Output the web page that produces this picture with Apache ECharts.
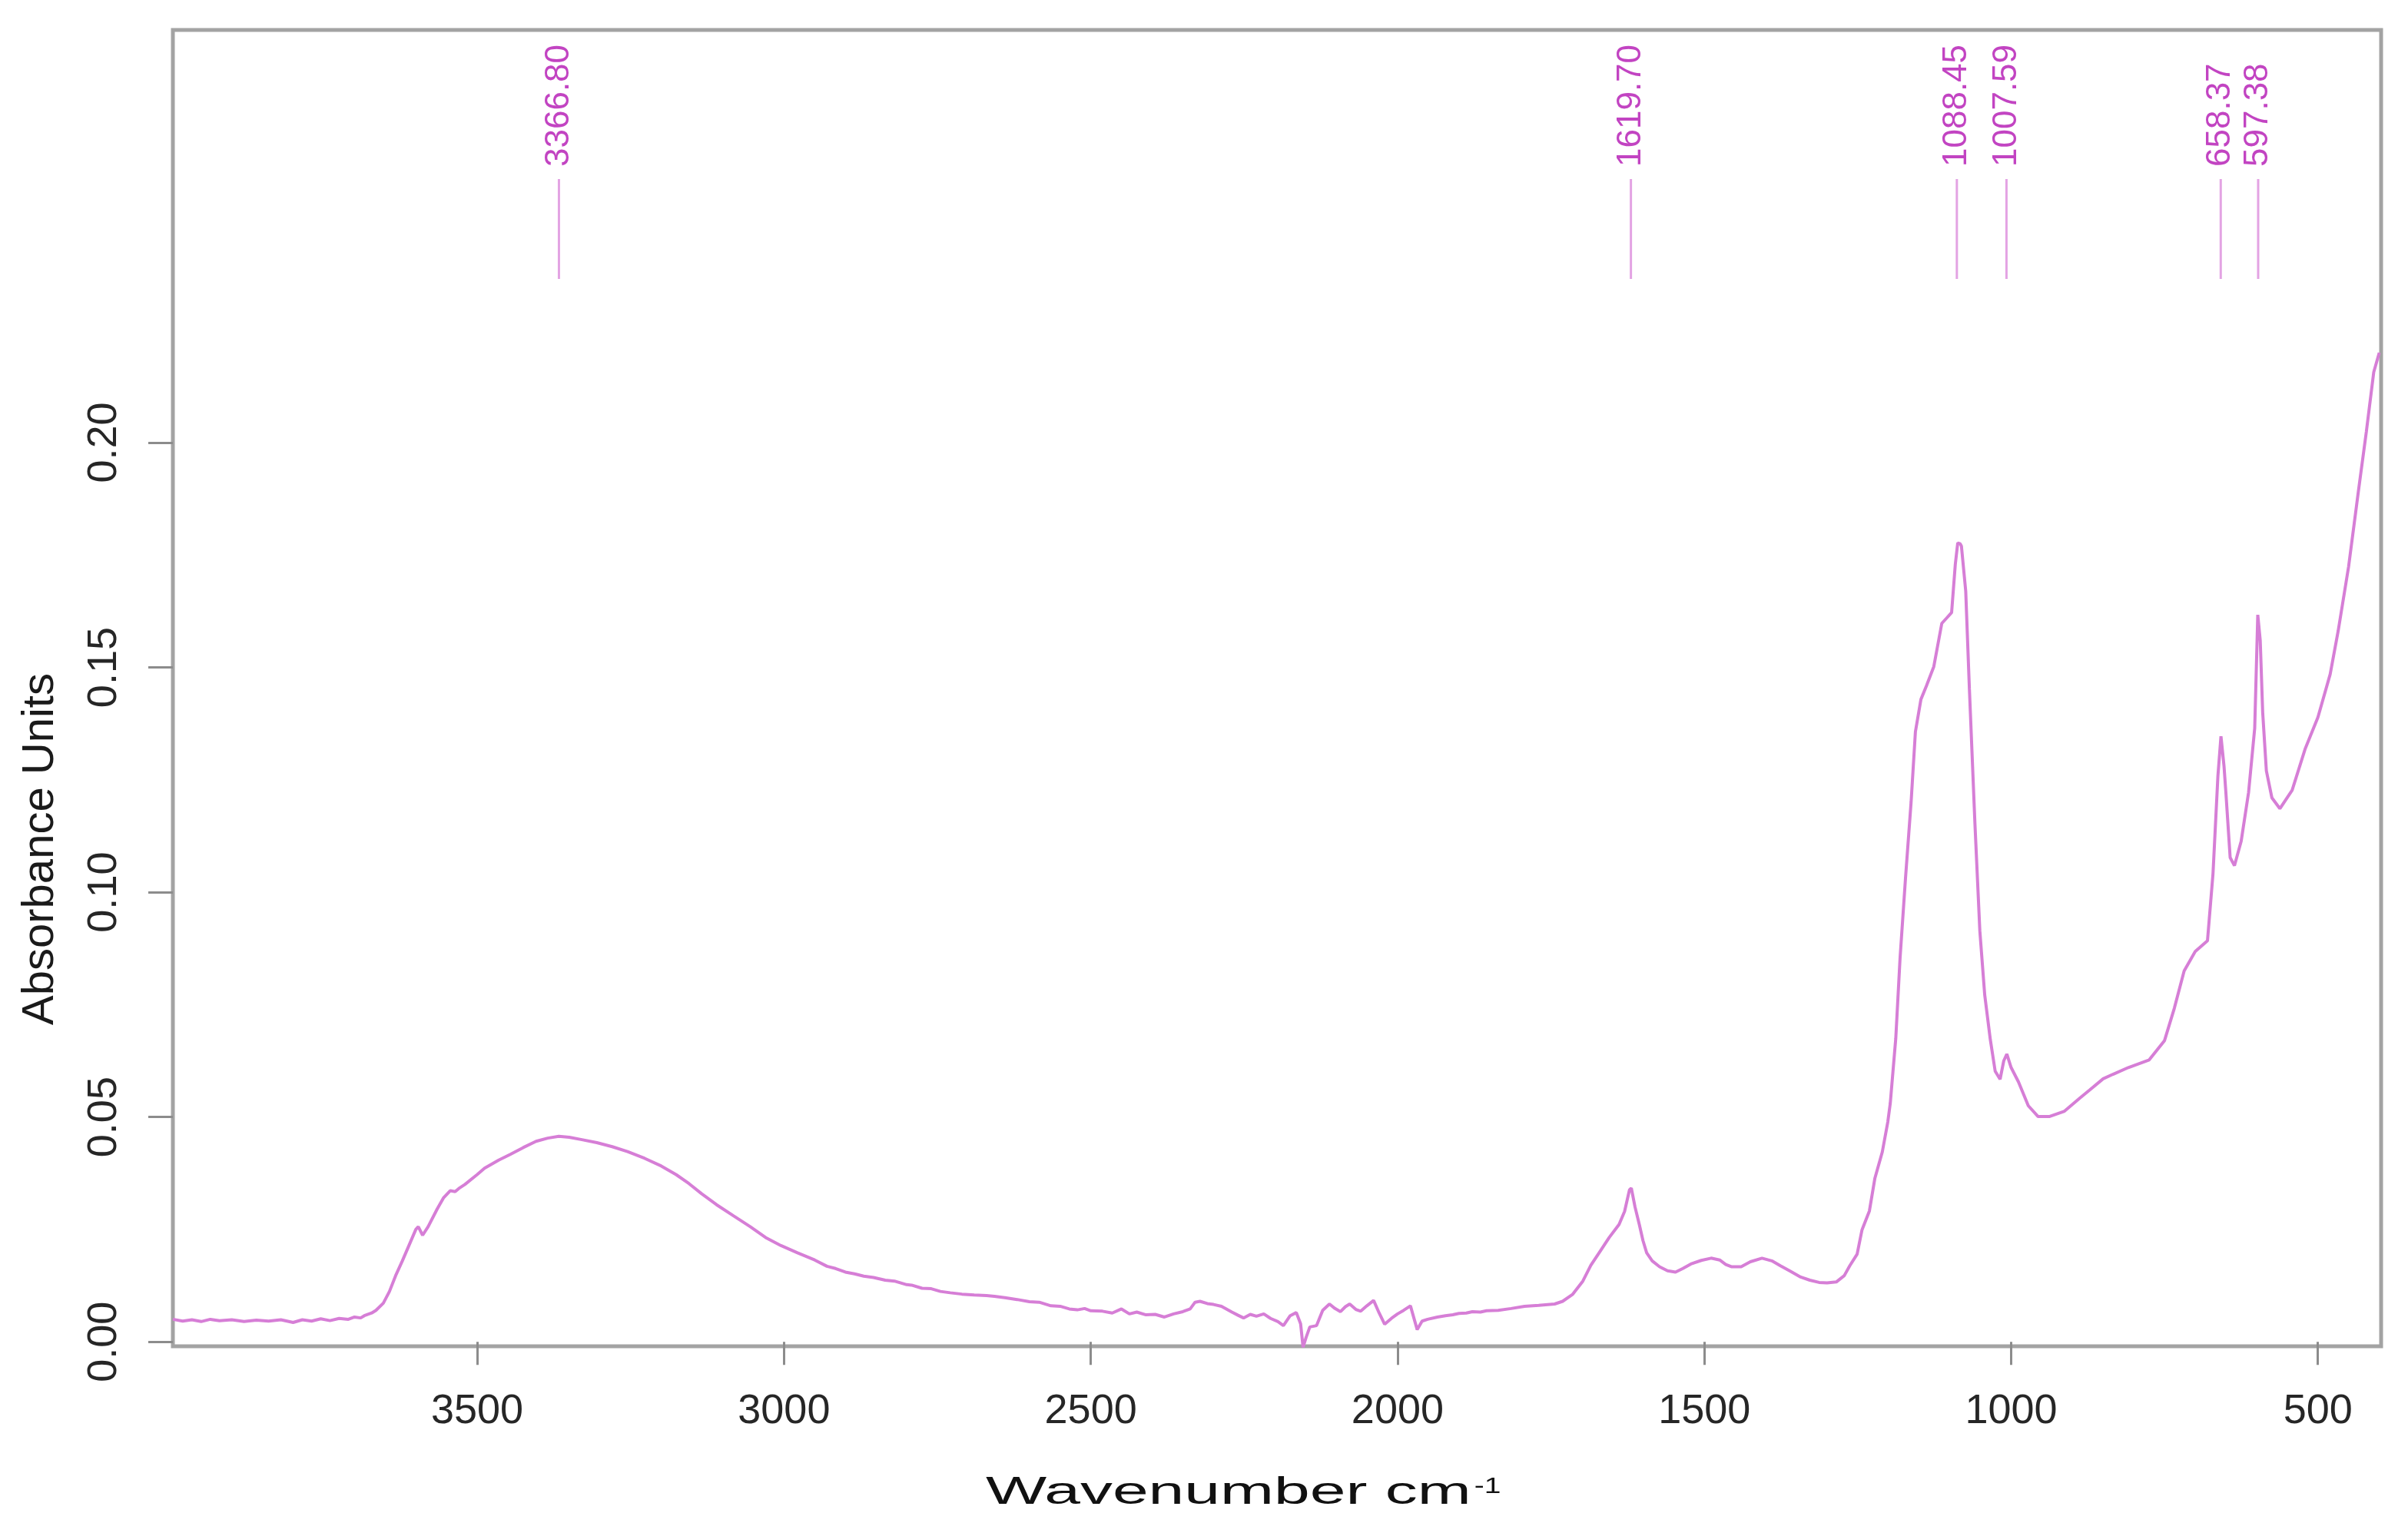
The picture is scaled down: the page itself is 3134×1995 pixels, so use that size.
<!DOCTYPE html>
<html>
<head>
<meta charset="utf-8">
<script src="https://cdn.jsdelivr.net/npm/echarts@6/dist/echarts.min.js"></script>
<style>
  html, body { margin: 0; padding: 0; background: #ffffff; }
  #chart { width: 3134px; height: 1995px; }
</style>
</head>
<body>
<div id="chart"></div>
<script>
// ---- data ----
const spectrumPoints = [
  [3996,0.0050],[3980,0.0046],[3965,0.0049],[3950,0.0045],[3935,0.0050],[3920,0.0047],[3900,0.0049],[3880,0.0045],
  [3860,0.0048],[3840,0.0046],[3820,0.0049],[3800,0.0043],[3785,0.0049],[3770,0.0046],[3755,0.0051],[3740,0.0047],
  [3725,0.0052],[3710,0.0050],[3700,0.0055],[3690,0.0053],[3684,0.0058],[3672,0.0064],[3665,0.0070],[3653,0.0086],
  [3643,0.0112],[3633,0.0147],[3622,0.0180],[3611,0.0215],[3600,0.0250],[3596,0.0256],[3589,0.0237],[3580,0.0256],
  [3565,0.0296],[3555,0.0320],[3544,0.0336],[3536,0.0334],[3530,0.0341],[3520,0.0350],[3500,0.0372],[3488,0.0386],
  [3465,0.0404],[3446,0.0417],[3425,0.0432],[3404,0.0446],[3385,0.0453],[3367,0.0457],[3350,0.0455],[3331,0.0450],
  [3305,0.0443],[3280,0.0434],[3255,0.0423],[3227,0.0408],[3200,0.0391],[3176,0.0372],[3155,0.0352],[3134,0.0329],
  [3110,0.0305],[3082,0.0280],[3055,0.0256],[3030,0.0232],[3005,0.0214],[2978,0.0198],[2950,0.0182],[2930,0.0168],
  [2916,0.0163],[2900,0.0155],[2885,0.0151],[2870,0.0146],[2854,0.0143],[2835,0.0137],[2820,0.0135],[2800,0.0127],
  [2792,0.0126],[2775,0.0119],[2760,0.0118],[2745,0.0112],[2729,0.0109],[2710,0.0106],[2690,0.0104],[2670,0.0103],
  [2657,0.0101],[2640,0.0098],[2620,0.0094],[2600,0.0089],[2584,0.0088],[2565,0.0080],[2550,0.0079],[2535,0.0073],
  [2522,0.0071],[2510,0.0074],[2500,0.0069],[2481,0.0068],[2465,0.0064],[2450,0.0073],[2437,0.0062],[2425,0.0066],
  [2410,0.0060],[2395,0.0061],[2380,0.0055],[2365,0.0062],[2350,0.0067],[2338,0.0073],[2330,0.0088],[2322,0.0090],
  [2310,0.0085],[2300,0.0083],[2287,0.0079],[2270,0.0066],[2260,0.0059],[2251,0.0053],[2240,0.0061],[2230,0.0057],
  [2218,0.0062],[2207,0.0052],[2195,0.0045],[2186,0.0036],[2175,0.0058],[2165,0.0065],[2158,0.0040],[2154,-0.0012],
  [2149,0.0010],[2143,0.0033],[2132,0.0036],[2122,0.0070],[2111,0.0084],[2102,0.0074],[2093,0.0067],[2085,0.0078],
  [2078,0.0084],[2068,0.0072],[2060,0.0068],[2050,0.0080],[2039,0.0092],[2030,0.0064],[2021,0.0039],[2010,0.0052],
  [2000,0.0062],[1990,0.0070],[1979,0.0080],[1968,0.0027],[1960,0.0046],[1951,0.0050],[1935,0.0055],[1922,0.0058],
  [1910,0.0060],[1900,0.0063],[1888,0.0064],[1878,0.0067],[1865,0.0066],[1855,0.0069],[1836,0.0070],[1815,0.0074],
  [1793,0.0079],[1770,0.0081],[1744,0.0084],[1731,0.0090],[1715,0.0105],[1698,0.0135],[1685,0.0170],[1669,0.0203],
  [1655,0.0232],[1639,0.0261],[1630,0.0290],[1622,0.0338],[1619,0.0342],[1613,0.0300],[1606,0.0261],[1600,0.0225],
  [1594,0.0198],[1585,0.0180],[1573,0.0167],[1560,0.0158],[1547,0.0155],[1535,0.0163],[1522,0.0173],[1505,0.0181],
  [1489,0.0186],[1475,0.0182],[1465,0.0172],[1456,0.0167],[1440,0.0167],[1425,0.0178],[1406,0.0186],[1390,0.0180],
  [1376,0.0169],[1360,0.0157],[1343,0.0144],[1328,0.0137],[1313,0.0132],[1300,0.0131],[1285,0.0133],[1272,0.0147],
  [1263,0.0169],[1251,0.0195],[1243,0.0249],[1231,0.0291],[1222,0.0364],[1210,0.0422],[1201,0.0489],[1197,0.0530],
  [1188,0.0675],[1181,0.0854],[1172,0.1034],[1163,0.1201],[1156,0.1357],[1147,0.1429],[1138,0.1459],[1126,0.1502],
  [1113,0.1598],[1105,0.1610],[1097,0.1622],[1091,0.1729],[1087,0.1777],[1083,0.1775],[1081,0.1770],[1074,0.1670],
  [1068,0.1452],[1059,0.1153],[1051,0.0914],[1043,0.0771],[1034,0.0673],[1026,0.0602],[1018,0.0584],[1012,0.0625],
  [1007,0.0640],[1000,0.0610],[988,0.0578],[972,0.0525],[956,0.0501],[938,0.0501],[913,0.0513],[888,0.0542],
  [872,0.0560],[850,0.0585],[834,0.0595],[809,0.0610],[775,0.0627],[750,0.0670],[734,0.0742],[718,0.0825],
  [700,0.0868],[680,0.0892],[671,0.1041],[663,0.1258],[658,0.1347],[653,0.1280],[650,0.1222],[643,0.1077],
  [636,0.1059],[625,0.1114],[613,0.1222],[603,0.1365],[598,0.1617],[594,0.1560],[590,0.1400],[584,0.1270],
  [575,0.1210],[562,0.1186],[542,0.1227],[521,0.1318],[500,0.1389],[480,0.1485],[467,0.1581],[450,0.1724],
  [434,0.1892],[421,0.2025],[409,0.2157],[400,0.2200]
];
const peakWavenumbers = [3366.80, 1619.70, 1088.45, 1007.59, 658.37, 597.38];
const peakLabels = ['3366.80', '1619.70', '1088.45', '1007.59', '658.37', '597.38'];
const xTickValues = [3500, 3000, 2500, 2000, 1500, 1000, 500];
const yTickValues = [0.00, 0.05, 0.10, 0.15, 0.20];
const xAxisTitle = 'Wavenumber cm';
const xAxisTitleSup = '-1';
const yAxisTitle = 'Absorbance Units';

// ---- chart ----
const FONT = '"Liberation Sans", Arial, Helvetica, sans-serif';
const TITLE_SIZE = 50;
const TITLE_SCALE_X = 1.68;
const TITLE_LEFT = 1283;

// measure main x title so the superscript sits right after it
const measureCtx = document.createElement('canvas').getContext('2d');
measureCtx.font = TITLE_SIZE + 'px ' + FONT;
const titleWidth = measureCtx.measureText(xAxisTitle).width * TITLE_SCALE_X;

const chart = echarts.init(document.getElementById('chart'), null, { renderer: 'canvas' });

const option = {
  animation: false,
  backgroundColor: '#ffffff',
  grid: {
    left: 225, right: 35, top: 39, bottom: 243,
    show: true, borderColor: '#a3a3a3', borderWidth: 5, backgroundColor: 'transparent'
  },
  xAxis: {
    type: 'value',
    inverse: true,
    min: 397, max: 3996,
    splitLine: { show: false },
    axisLine: { show: false },
    axisTick: { show: true, length: 30, lineStyle: { color: '#8c8c8c', width: 3 }, customValues: xTickValues },
    axisLabel: {
      customValues: xTickValues, fontSize: 54, fontFamily: FONT, color: '#262626', margin: 58,
      formatter: v => String(Math.round(v))
    }
  },
  yAxis: {
    type: 'value',
    min: -0.001, max: 0.2918,
    splitLine: { show: false },
    axisLine: { show: false },
    axisTick: { show: true, length: 32, lineStyle: { color: '#8c8c8c', width: 3 }, customValues: yTickValues },
    axisLabel: {
      customValues: yTickValues, fontSize: 54, fontFamily: FONT, color: '#262626', margin: 62, rotate: 90,
      formatter: v => v.toFixed(2)
    }
  },
  graphic: [
    {
      type: 'text', x: 53, y: 1105, rotation: Math.PI / 2,
      style: { text: yAxisTitle, fontSize: 58, fontFamily: FONT, fill: '#1a1a1a', align: 'center', verticalAlign: 'middle' }
    },
    {
      type: 'text', x: TITLE_LEFT, y: 1943, scaleX: TITLE_SCALE_X,
      style: {
        text: xAxisTitle, fontSize: TITLE_SIZE, fontFamily: FONT, fill: '#111111',
        align: 'left', verticalAlign: 'middle'
      }
    },
    {
      type: 'text', x: TITLE_LEFT + titleWidth + 4, y: 1920, scaleX: 1.3,
      style: {
        text: xAxisTitleSup, fontSize: 30, fontFamily: FONT, fill: '#111111',
        align: 'left', verticalAlign: 'top'
      }
    }
  ],
  series: [
    {
      type: 'line',
      data: spectrumPoints,
      showSymbol: false,
      symbol: 'none',
      lineStyle: { color: '#d67ed6', width: 4 },
      clip: true,
      z: 3
    },
    {
      type: 'custom',
      data: peakWavenumbers.map(w => [w, 0]),
      clip: false,
      z: 4,
      renderItem: function (params, api) {
        const x = api.coord([api.value(0), 0])[0];
        const top = params.coordSys.y;
        return {
          type: 'group',
          children: [
            {
              type: 'line',
              shape: { x1: x, y1: top + 194, x2: x, y2: top + 324 },
              style: { stroke: '#e3a3e3', lineWidth: 3 }
            },
            {
              type: 'text',
              x: x, y: top + 178, rotation: Math.PI / 2,
              style: {
                text: peakLabels[params.dataIndex], fontSize: 44, fontFamily: FONT,
                fill: '#c244c2', align: 'left', verticalAlign: 'middle'
              }
            }
          ]
        };
      }
    }
  ]
};
chart.setOption(option);
</script>
</body>
</html>
